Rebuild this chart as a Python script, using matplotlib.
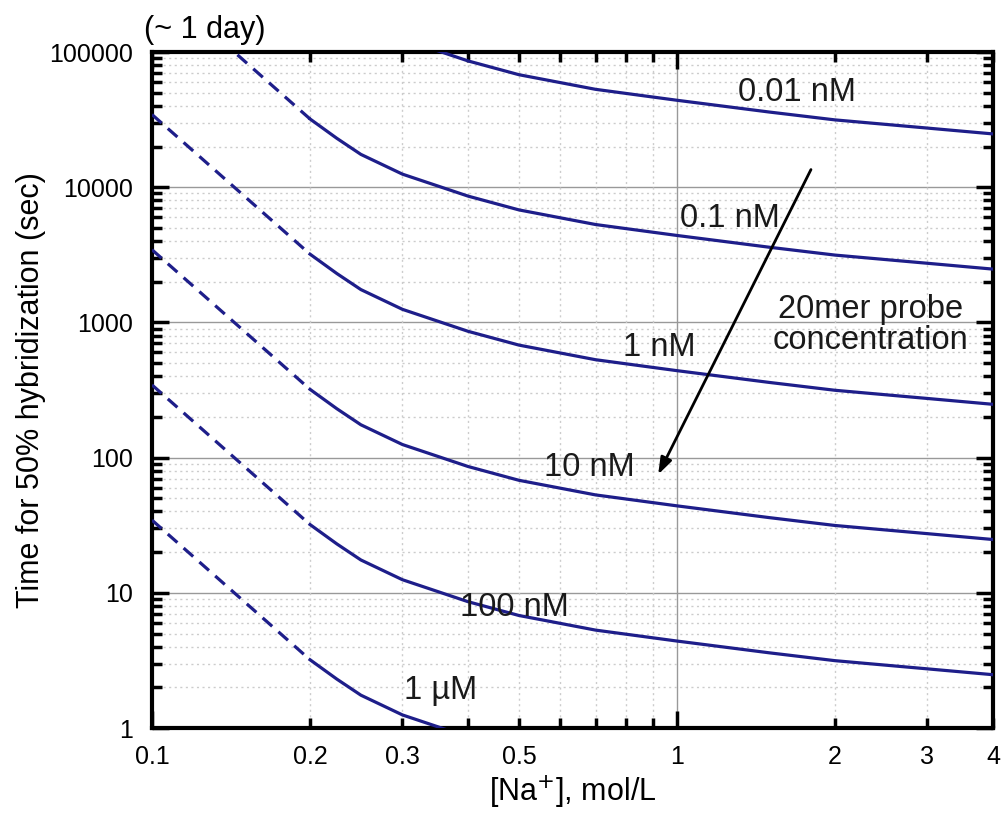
import numpy as np
import matplotlib
matplotlib.use('Agg')
import matplotlib.pyplot as plt
from matplotlib.ticker import FixedLocator, NullFormatter

plt.rcParams['font.family'] = ['Liberation Sans', 'DejaVu Sans']

# Na+ concentration (mol/L) for the solid part, and the dashed extrapolation
na = [0.2, 0.225, 0.25, 0.3, 0.4, 0.5, 0.7, 1.0, 1.5, 2.0, 3.0, 4.0]
na_dash = [0.1, 0.2]

# time for 50% hybridization (sec), one series per probe concentration
t_001nM = [320000, 230000, 175000, 125000, 86000, 68000, 53000, 44000, 36000, 31500, 27400, 24800]
t_01nM = [32000, 23000, 17500, 12500, 8600, 6800, 5300, 4400, 3600, 3150, 2740, 2480]
t_1nM = [3200, 2300, 1750, 1250, 860, 680, 530, 440, 360, 315, 274, 248]
t_10nM = [320, 230, 175, 125, 86, 68, 53, 44, 36, 31.5, 27.4, 24.8]
t_100nM = [32, 23, 17.5, 12.5, 8.6, 6.8, 5.3, 4.4, 3.6, 3.15, 2.74, 2.48]
t_1uM = [3.2, 2.3, 1.75, 1.25, 0.86, 0.68, 0.53, 0.44, 0.36, 0.315, 0.274, 0.248]

d_001nM = [3450000, 320000]
d_01nM = [345000, 32000]
d_1nM = [34500, 3200]
d_10nM = [3450, 320]
d_100nM = [345, 32]
d_1uM = [34.5, 3.2]

labels = ['0.01 nM', '0.1 nM', '1 nM', '10 nM', '100 nM', '1 \u00b5M']
label_x = [1.69, 1.26, 0.925, 0.68, 0.49, 0.354]
label_y = [49800, 5920, 658, 85, 7.85, 1.91]

xticks = [0.1, 0.2, 0.3, 0.5, 1, 2, 3, 4]
xtick_labels = ['0.1', '0.2', '0.3', '0.5', '1', '2', '3', '4']
yticks = [1, 10, 100, 1000, 10000, 100000]
ytick_labels = ['1', '10', '100', '1000', '10000', '100000']

col = '#1e1e8a'

fig = plt.figure(figsize=(10.02, 8.16), dpi=100)
ax = fig.add_axes([0.1517, 0.1078, 0.8393, 0.8284])
ax.set_xscale('log')
ax.set_yscale('log')

for t, d in zip([t_001nM, t_01nM, t_1nM, t_10nM, t_100nM, t_1uM],
                [d_001nM, d_01nM, d_1nM, d_10nM, d_100nM, d_1uM]):
    ax.plot(na, t, color=col, lw=2.3, zorder=3)
    ax.plot(na_dash, d, color=col, lw=2.3, ls=(0, (4, 2.6)), zorder=3)

for lab, lx, ly in zip(labels, label_x, label_y):
    ax.text(lx, ly, lab, fontsize=23.5, ha='center', va='center', color='#1a1a1a')

ax.text(2.34, 955, '20mer probe\nconcentration', fontsize=23.5, ha='center', va='center',
        color='#1a1a1a', linespacing=1.0)
ax.annotate('', xy=(0.916, 72), xytext=(1.81, 14100),
            arrowprops=dict(arrowstyle='-|>,head_length=1.0,head_width=0.35', color='black', lw=2))

ax.set_xlim(0.1, 4)
ax.set_ylim(1, 100000)

ax.set_xticks(xticks)
ax.set_xticklabels(xtick_labels)
ax.xaxis.set_minor_locator(FixedLocator([0.2, 0.3, 0.4, 0.5, 0.6, 0.7, 0.8, 0.9, 2, 3]))
ax.xaxis.set_minor_formatter(NullFormatter())
ax.set_yticks(yticks)
ax.set_yticklabels(ytick_labels)
ax.yaxis.set_minor_locator(FixedLocator([m * 10.0 ** e for e in range(5) for m in range(2, 10)]))
ax.yaxis.set_minor_formatter(NullFormatter())

# grid: solid for decades, dotted for the rest
ax.axvline(1, color='#999999', lw=1, zorder=1)
for v in [10, 100, 1000, 10000]:
    ax.axhline(v, color='#999999', lw=1, zorder=1)
for v in [0.2, 0.3, 0.4, 0.5, 0.6, 0.7, 0.8, 0.9, 2, 3]:
    ax.axvline(v, color='#cccccc', lw=1, ls=(0, (1.5, 2.5)), zorder=1)
for e in range(5):
    for m in range(2, 10):
        ax.axhline(m * 10.0 ** e, color='#cccccc', lw=1, ls=(0, (1.5, 2.5)), zorder=1)

ax.tick_params(which='both', direction='in', top=True, right=True, labelsize=18)
ax.tick_params(axis='x', pad=12)
ax.tick_params(axis='y', pad=14)
ax.tick_params(which='major', length=12, width=2.5)
ax.tick_params(which='minor', length=7, width=2.5)
for s in ax.spines.values():
    s.set_linewidth(3)

# only the x ticks at 0.1 and 1 are long
for tk in ax.xaxis.get_major_ticks():
    if tk.get_loc() not in (0.1, 1):
        tk.tick1line.set_markersize(7)
        tk.tick2line.set_markersize(7)

ax.set_xlabel('[Na$^{+}$], mol/L', fontsize=22, labelpad=4)
ax.set_ylabel('Time for 50% hybridization (sec)', fontsize=22, labelpad=2)
fig.text(0.144, 0.963, '(~ 1 day)', fontsize=22, ha='left', va='center')

fig.savefig('out.png', dpi=100)
